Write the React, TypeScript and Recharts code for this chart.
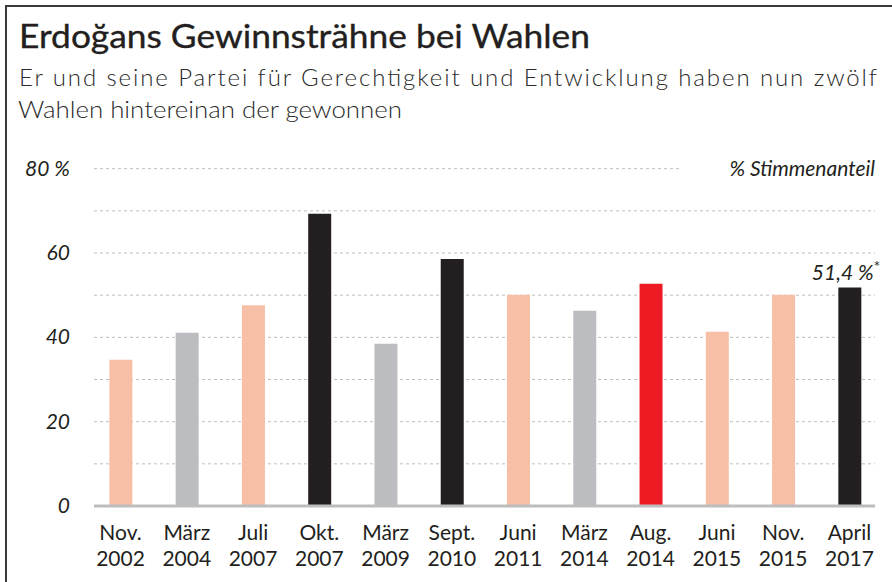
import React from 'react';
import { BarChart, Bar, XAxis, YAxis, CartesianGrid, Cell, ReferenceLine, LabelList } from 'recharts';

// ---- data ----
const months = ['Nov.', 'März', 'Juli', 'Okt.', 'März', 'Sept.', 'Juni', 'März', 'Aug.', 'Juni', 'Nov.', 'April'];
const years = ['2002', '2004', '2007', '2007', '2009', '2010', '2011', '2014', '2014', '2015', '2015', '2017'];
const voteShare = [34.7, 41.1, 47.6, 69.3, 38.5, 58.6, 50.1, 46.3, 52.7, 41.3, 50.1, 51.8];
const electionType = ['parl', 'local', 'parl', 'ref', 'local', 'ref', 'parl', 'local', 'pres', 'parl', 'parl', 'ref'];
const yTicks = [0, 10, 20, 30, 40, 50, 60, 70, 80];
const yTickLabels: Record<number, string> = { 0: '0', 20: '20', 40: '40', 60: '60', 80: '80 %' };
const highlightIndex = 11;
const highlightText = '51,4 %';
const unitLabel = '% Stimmenanteil';
const title = 'Erdoğans Gewinnsträhne bei Wahlen';
const subtitle1 = 'Er und seine Partei für Gerechtigkeit und Entwicklung haben nun zwölf';
const subtitle2 = 'Wahlen hintereinan der gewonnen';

const typeColors: Record<string, string> = {
  parl: '#F8BFA7',
  local: '#BCBDC0',
  ref: '#231F20',
  pres: '#ED1C24',
};

const data = months.map((m, i) => ({
  key: m + ' ' + years[i],
  month: m,
  year: years[i],
  value: voteShare[i],
  type: electionType[i],
}));

const FONT = 'Lato, "Open Sans", sans-serif';
const TEXT = '#231F20';

const XTick = (props: any) => {
  const { x, y, payload } = props;
  const d = data[payload.index];
  if (!d) return null;
  return (
    <g>
      <text x={x} y={y + 34} textAnchor="middle" fontFamily={FONT} fontSize={21} fill={TEXT}>
        {d.month}
      </text>
      <text x={x} y={y + 60} textAnchor="middle" fontFamily={FONT} fontSize={21} fill={TEXT}>
        {d.year}
      </text>
    </g>
  );
};

const YTick = (props: any) => {
  const { x, y, payload } = props;
  const label = yTickLabels[payload.value];
  if (label === undefined) return null;
  return (
    <text x={x} y={y} dy={7} textAnchor="end" fontFamily={FONT} fontStyle="italic" fontSize={21} fill={TEXT}>
      {label}
    </text>
  );
};

const UnitLabel = (props: any) => {
  const vb = props.viewBox || {};
  const right = (vb.x || 0) + (vb.width || 0);
  const y = vb.y || 0;
  return (
    <g>
      <rect x={right - 195} y={y - 4} width={197} height={8} fill="#fff" />
      <text x={right} y={y} dy={7} textAnchor="end" fontFamily={FONT} fontStyle="italic" fontSize={21} fill={TEXT}>
        {unitLabel}
      </text>
    </g>
  );
};

const HighlightLabel = (props: any) => {
  const { x, y, width, index } = props;
  if (index !== highlightIndex) return null;
  const cx = Number(x) + Number(width) / 2;
  return (
    <text x={cx - 38} y={Number(y) - 8} textAnchor="start" fontFamily={FONT} fontStyle="italic" fontSize={21} fill={TEXT}>
      {highlightText}
      <tspan dy={-8} fontSize={15} fontStyle="normal">*</tspan>
    </text>
  );
};

export default function App() {
  return (
    <div style={{ position: 'fixed', left: 0, top: 0, width: 892, height: 582, overflow: 'hidden', background: '#fff' }}>
      <div
        style={{
          position: 'absolute',
          left: 5,
          top: 5,
          width: 920,
          height: 620,
          borderTop: '2px solid #3a3a3a',
          borderLeft: '2px solid #3a3a3a',
          boxSizing: 'border-box',
        }}
      />
      <svg width={892} height={140} style={{ position: 'absolute', left: 0, top: 0 }}>
        <text x={19} y={48} fontFamily={FONT} fontWeight={400} fontSize={32} fill={TEXT} stroke={TEXT} strokeWidth={0.35} textLength={571} lengthAdjust="spacingAndGlyphs">
          {title}
        </text>
        <text x={19} y={86} fontFamily={FONT} fontWeight={300} fontSize={24} fill="#2a2a2a" textLength={858} lengthAdjust="spacing">
          {subtitle1}
        </text>
        <text x={18} y={118} fontFamily={FONT} fontWeight={300} fontSize={24} fill="#2a2a2a" textLength={384} lengthAdjust="spacingAndGlyphs">
          {subtitle2}
        </text>
      </svg>
      <div style={{ position: 'absolute', left: 0, top: 0 }}>
        <BarChart width={892} height={582} data={data} margin={{ top: 168.7, right: 17, bottom: 6, left: 0 }}>
          <CartesianGrid vertical={false} stroke="#bdbdbd" strokeDasharray="3 3" />
          <XAxis
            dataKey="key"
            interval={0}
            tickLine={false}
            tickSize={0}
            tickMargin={0}
            height={70}
            axisLine={{ stroke: '#bdbdbd', strokeWidth: 3 }}
            padding={{ left: -6.6, right: -7.6 }}
            tick={<XTick />}
          />
          <YAxis
            domain={[0, 80]}
            ticks={yTicks}
            interval={0}
            width={94}
            axisLine={false}
            tickLine={false}
            tickSize={0}
            tickMargin={24}
            tick={<YTick />}
          />
          <ReferenceLine y={80} stroke="none" label={<UnitLabel />} />
          <Bar dataKey="value" barSize={23} isAnimationActive={false}>
            {data.map((d, i) => (
              <Cell key={i} fill={typeColors[d.type]} />
            ))}
            <LabelList dataKey="value" content={<HighlightLabel />} />
          </Bar>
        </BarChart>
      </div>
    </div>
  );
}
